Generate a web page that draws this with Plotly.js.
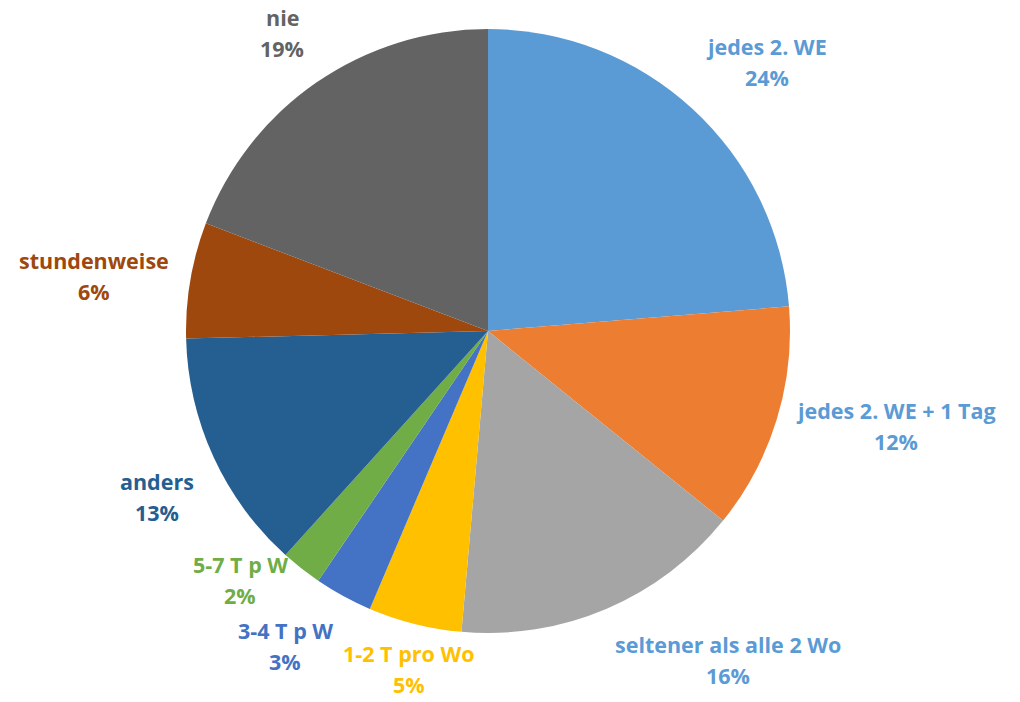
<!DOCTYPE html>
<html>
<head>
<meta charset="utf-8">
<script src="https://cdn.plot.ly/plotly-3.0.1.min.js"></script>
<style>html,body{margin:0;padding:0;background:#fff;}#chart{width:1020px;height:702px;}</style>
</head>
<body>
<div id="chart"></div>
<script>
const categories = ["jedes 2. WE", "jedes 2. WE + 1 Tag", "seltener als alle 2 Wo", "1-2 T pro Wo", "3-4 T p W", "5-7 T p W", "anders", "stundenweise", "nie"];
const values = [23.7, 12.1, 15.6, 5.0, 3.1, 2.2, 12.9, 6.2, 19.2];
const sliceColors = ["#5B9BD5", "#ED7D31", "#A5A5A5", "#FFC000", "#4472C4", "#70AD47", "#255E91", "#9E480E", "#636363"];
const labelColors = ["#5B9BD5", "#5B9BD5", "#5B9BD5", "#FFC000", "#4472C4", "#70AD47", "#255E91", "#9E480E", "#636363"];

const W = 1020, H = 702;
const cxPx = 488, cyPx = 331, rPx = 302;
const fontFamily = '"Open Sans", sans-serif';
const fontSize = 21.5;
const lineGap = 31;
const dom = {
  x: [(cxPx - rPx) / W, (cxPx + rPx) / W],
  y: [(H - cyPx - rPx) / H, (H - cyPx + rPx) / H]
};

const ctx = document.createElement('canvas').getContext('2d');
ctx.font = 'bold ' + fontSize + 'px ' + fontFamily;

const total = values.reduce((a, b) => a + b, 0);
const boxes = [];
let cum = 0;
const labelR = rPx + 22;
values.forEach((v, i) => {
  const mid = (cum + v / 2) / total * 2 * Math.PI;
  cum += v;
  const s = Math.sin(mid), c = Math.cos(mid);
  const px = cxPx + labelR * s;
  const py = cyPx - labelR * c;
  const pct = Math.round(v / total * 100) + '%';
  const w = Math.max(ctx.measureText(categories[i]).width, ctx.measureText(pct).width);
  const h = 2 * lineGap;
  let left = s > 0.3 ? px : (s < -0.3 ? px - w : px - w / 2);
  let top = c > 0.35 ? py - h : (c < -0.35 ? py : py - h / 2);
  // simple collision avoidance against labels already placed
  for (let k = 0; k < 20; k++) {
    let moved = false;
    for (const b of boxes) {
      const ox = left < b.left + b.w && left + w > b.left;
      const oy = top < b.top + b.h && top + h > b.top;
      if (ox && oy) {
        if (top + h / 2 < b.top + b.h / 2) top = b.top - h - 4;
        else top = b.top + b.h + 4;
        moved = true;
      }
    }
    if (!moved) break;
  }
  // keep inside the figure
  top = Math.min(Math.max(top, 2), H - h - 2);
  left = Math.min(Math.max(left, 2), W - w - 2);
  boxes.push({ left, top, w, h, name: categories[i], pct, color: labelColors[i] });
});

const annotations = [];
boxes.forEach(b => {
  const xc = (b.left + b.w / 2) / W;
  [[b.name, b.top + lineGap / 2], [b.pct, b.top + lineGap * 1.5]].forEach(([t, y]) => {
    annotations.push({
      x: xc, y: 1 - y / H, xref: 'paper', yref: 'paper',
      xanchor: 'center', yanchor: 'middle', showarrow: false,
      text: '<b>' + t + '</b>',
      font: { family: fontFamily, size: fontSize, color: b.color }
    });
  });
});

const data = [{
  type: 'pie',
  labels: categories,
  values: values,
  sort: false,
  direction: 'clockwise',
  rotation: 0,
  textinfo: 'none',
  hoverinfo: 'label+percent',
  marker: { colors: sliceColors, line: { width: 0 } },
  domain: dom
}];

const layout = {
  width: W, height: H,
  margin: { l: 0, r: 0, t: 0, b: 0 },
  showlegend: false,
  paper_bgcolor: '#ffffff',
  annotations: annotations
};

Plotly.newPlot('chart', data, layout, { displayModeBar: false });
</script>
</body>
</html>
